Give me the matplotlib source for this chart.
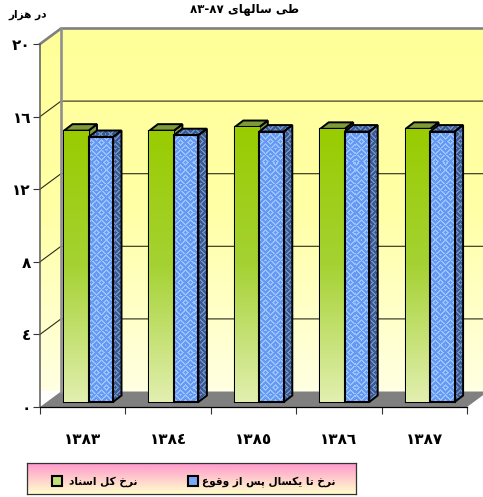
import numpy as np
import matplotlib
matplotlib.use("Agg")
import matplotlib.pyplot as plt
from matplotlib.colors import LinearSegmentedColormap, to_rgb
from matplotlib.patches import Polygon, Rectangle

years = ["١٣٨٣", "١٣٨٤", "١٣٨٥", "١٣٨٦", "١٣٨٧"]
total_rate = [14.95, 14.95, 15.15, 15.05, 15.05]
one_year_rate = [14.6, 14.7, 14.9, 14.9, 14.9]
y_ticks = [0, 4, 8, 12, 16, 20]
y_labels = ["٠", "٤", "٨", "١٢", "١٦", "٢٠"]
title_text = "طی سالهای"
title_years = "٨٣-٨٧"
unit_text = "در هزار"
legend_total = "نرخ کل اسناد"
legend_one_year = "نرخ تا یکسال پس از وقوع"

W, H = 483, 497

# matplotlib does no arabic shaping, so join the letters by hand
FORMS = {
    "ا": (0xFE8D, 0xFE8E), "د": (0xFEA9, 0xFEAA), "ر": (0xFEAD, 0xFEAE),
    "ز": (0xFEAF, 0xFEB0), "و": (0xFEED, 0xFEEE),
    "ه": (0xFEE9, 0xFEEA, 0xFEEB, 0xFEEC), "ط": (0xFEC1, 0xFEC2, 0xFEC3, 0xFEC4),
    "ی": (0xFBFC, 0xFBFD, 0xFBFE, 0xFBFF), "س": (0xFEB1, 0xFEB2, 0xFEB3, 0xFEB4),
    "ل": (0xFEDD, 0xFEDE, 0xFEDF, 0xFEE0), "ن": (0xFEE5, 0xFEE6, 0xFEE7, 0xFEE8),
    "خ": (0xFEA5, 0xFEA6, 0xFEA7, 0xFEA8), "ک": (0xFB8E, 0xFB8F, 0xFB90, 0xFB91),
    "ت": (0xFE95, 0xFE96, 0xFE97, 0xFE98), "پ": (0xFB56, 0xFB57, 0xFB58, 0xFB59),
    "ق": (0xFED5, 0xFED6, 0xFED7, 0xFED8), "ع": (0xFEC9, 0xFECA, 0xFECB, 0xFECC),
}


def shape(text):
    out = []
    for i, ch in enumerate(text):
        if ch not in FORMS:
            out.append(ch)
            continue
        prev = text[i - 1] if i > 0 else " "
        nxt = text[i + 1] if i + 1 < len(text) else " "
        join_prev = prev in FORMS and len(FORMS[prev]) == 4
        join_next = nxt in FORMS and len(FORMS[ch]) == 4
        f = FORMS[ch]
        if join_prev and join_next:
            out.append(chr(f[3]))
        elif join_prev:
            out.append(chr(f[1]))
        elif join_next:
            out.append(chr(f[2]))
        else:
            out.append(chr(f[0]))
    return "".join(reversed(out))


def gradient(ax, extent, colors, clip):
    cmap = LinearSegmentedColormap.from_list("g", colors)
    im = ax.imshow(np.linspace(0, 1, 256)[:, None], cmap=cmap, extent=extent,
                   aspect="auto", zorder=clip.get_zorder(), interpolation="bilinear")
    im.set_clip_box(fig.bbox)
    im.set_clip_path(clip)
    return im


def weave(light, dark, nx, ny):
    # woven fill of the blue bars, one texel per pixel
    j, i = np.meshgrid(np.arange(nx), np.arange(ny))
    block = ((i // 7 + j // 5) % 2) == 0
    stripe = np.where(block, (i + j) % 5 < 2, (i - j) % 5 < 2)
    img = np.zeros((ny, nx, 3))
    img[stripe] = to_rgb(light)
    img[~stripe] = to_rgb(dark)
    return img


fig = plt.figure(figsize=(W / 100, H / 100), dpi=100, facecolor="white")
plt.rcParams["font.family"] = ["DejaVu Sans"]
ax = fig.add_axes([40 / W, (H - 407) / H, 427 / W, 363 / H])
ax.patch.set_visible(False)
ax.set_xlim(-0.5, 4.5)
ax.set_ylim(0, 20)

x_unit = 427 / 5
y_unit = 363 / 20
wall_dx, wall_dy = 21 / x_unit, 15.5 / y_unit
x0, x1 = -0.5, 4.5

# walls and floor
back = Polygon([(x0 + wall_dx, wall_dy), (x1 + wall_dx, wall_dy), (x1 + wall_dx, 20 + wall_dy),
                (x0 + wall_dx, 20 + wall_dy)], closed=True, fc="none", ec="none", zorder=1, clip_on=False)
side = Polygon([(x0, 0), (x0 + wall_dx, wall_dy), (x0 + wall_dx, 20 + wall_dy), (x0, 20)],
               closed=True, fc="none", ec="none", zorder=1, clip_on=False)
ax.add_patch(back)
ax.add_patch(side)
wall_extent = (x0, x1 + wall_dx, wall_dy, 20 + wall_dy)
gradient(ax, wall_extent, ["#ffff99", "#ffffa6", "#ffffe2"], back)
gradient(ax, wall_extent, ["#ffff99", "#ffffa6", "#ffffe2"], side)
ax.add_patch(Polygon([(x0, 0), (x1, 0), (x1 + wall_dx, wall_dy), (x0 + wall_dx, wall_dy)],
                     closed=True, fc="#808080", ec="none", zorder=2, clip_on=False))

for v in y_ticks[1:-1]:
    ax.plot([x0, x0 + wall_dx, x1 + wall_dx], [v, v + wall_dy, v + wall_dy],
            color="#2b2b1a", lw=0.8, zorder=2, clip_on=False)
ax.plot([x0, x0 + wall_dx, x1 + wall_dx], [20, 20 + wall_dy, 20 + wall_dy],
        color="#808080", lw=1.9, zorder=3, clip_on=False, solid_joinstyle="miter")
ax.plot([x0 + wall_dx, x0 + wall_dx], [wall_dy, 20 + wall_dy],
        color="#909090", lw=1.9, zorder=3, clip_on=False)

# bars
idx = np.arange(len(years))
bar_w = 24.5 / x_unit
bar_lift = 5 / y_unit
bar_dx, bar_dy = 8.5 / x_unit, 6.5 / y_unit
texture = weave("#96c6ff", "#6898f4", 427, 363)
dark_texture = weave("#6f8fc0", "#3a5a96", 427, 363)


def faces(ax, left, top, side_tex, top_color, z):
    right = left + bar_w
    low = bar_lift
    s = Polygon([(right, low), (right + bar_dx, low + bar_dy), (right + bar_dx, top + bar_dy), (right, top)],
                closed=True, fc=top_color if side_tex is None else "none", ec="black", lw=1.4, zorder=z,
                clip_on=False, joinstyle="miter")
    t = Polygon([(left, top), (left + bar_dx, top + bar_dy), (right + bar_dx, top + bar_dy), (right, top)],
                closed=True, fc=top_color if side_tex is None else "none", ec="black", lw=1.4, zorder=z,
                clip_on=False, joinstyle="miter")
    ax.add_patch(s)
    ax.add_patch(t)
    if side_tex is not None:
        for p in (s, t):
            im = ax.imshow(side_tex, extent=(x0, x1, 0, 20), aspect="auto", zorder=z - 0.1,
                           interpolation="nearest")
            im.set_clip_box(fig.bbox)
            im.set_clip_path(p)


z = 5
for i in idx:
    left_g = i - 0.5 + 24 / x_unit
    left_b = left_g + bar_w
    top_g = total_rate[i] + bar_lift
    top_b = one_year_rate[i] + bar_lift

    faces(ax, left_g, top_g, None, "#7f9a3a", z)
    z += 1
    front = ax.bar(left_g, total_rate[i], bar_w, bottom=bar_lift, align="edge",
                   fc="none", ec="black", lw=1.5, zorder=z)[0]
    gradient(ax, (left_g, left_g + bar_w, bar_lift, top_g), ["#99cc00", "#a5d233", "#e2efb0"], front)
    z += 1

    faces(ax, left_b, top_b, dark_texture, "#33538f", z)
    z += 1
    front = ax.bar(left_b, one_year_rate[i], bar_w, bottom=bar_lift, align="edge",
                   fc="none", ec="black", lw=1.5, zorder=z)[0]
    im = ax.imshow(texture, extent=(x0, x1, 0, 20), aspect="auto", zorder=z - 0.1, interpolation="nearest")
    im.set_clip_path(front)
    z += 1

ax.set_xlim(x0, x1)
ax.set_ylim(0, 20)

# axes
for name in ("top", "right"):
    ax.spines[name].set_visible(False)
ax.spines["left"].set_color("#5a5a5a")
ax.spines["left"].set_linewidth(1.1)
ax.spines["left"].set_zorder(4)
ax.spines["bottom"].set_linewidth(0.9)
ax.spines["bottom"].set_zorder(50)
ax.set_yticks(y_ticks)
ax.set_yticklabels(y_labels, fontweight="bold", fontsize=11)
ax.tick_params(axis="y", length=5, width=0.8, color="#333333", pad=1.5)
ax.set_xticks(np.arange(x0, x1 + 0.5))
ax.set_xticklabels([])
ax.tick_params(axis="x", length=5, width=0.8, color="#333333")
ax.set_xticks(idx, labels=years, minor=True, fontweight="bold", fontsize=11)
ax.tick_params(axis="x", which="minor", length=0, pad=18)

fig.text(244 / W, 1 - 10 / H, title_years + " " + shape(title_text), fontsize=8.6, fontweight="bold",
         ha="center", va="center", color="black")
fig.text(28 / W, 1 - 15 / H, shape(unit_text), fontsize=7.6, fontweight="bold",
         ha="center", va="center", color="black")

# legend box
lax = fig.add_axes([27 / W, (H - 494) / H, 329 / W, 31 / H])
lax.set_xlim(27, 356)
lax.set_ylim(494, 463)
lax.set_xticks([])
lax.set_yticks([])
for sp in lax.spines.values():
    sp.set_linewidth(0.9)
    sp.set_color("#333333")
cmap = LinearSegmentedColormap.from_list("lg", ["#ff99cc", "#ffffcc"])
lax.imshow(np.linspace(0, 1, 64)[:, None], cmap=cmap, extent=(27, 356, 494, 463), aspect="auto", zorder=0)
lax.add_patch(Rectangle((52, 476), 10, 10, fc="#c4df7a", ec="black", lw=1.5, zorder=2))
lax.add_patch(Rectangle((188, 476), 10, 10, fc="#7aa8f7", ec="black", lw=1.5, zorder=2))
lax.text(103, 482, shape(legend_total), fontsize=7.6, fontweight="bold", ha="center", va="center")
lax.text(269, 482, shape(legend_one_year), fontsize=7.6, fontweight="bold", ha="center", va="center")

fig.savefig("out.png", dpi=100)
